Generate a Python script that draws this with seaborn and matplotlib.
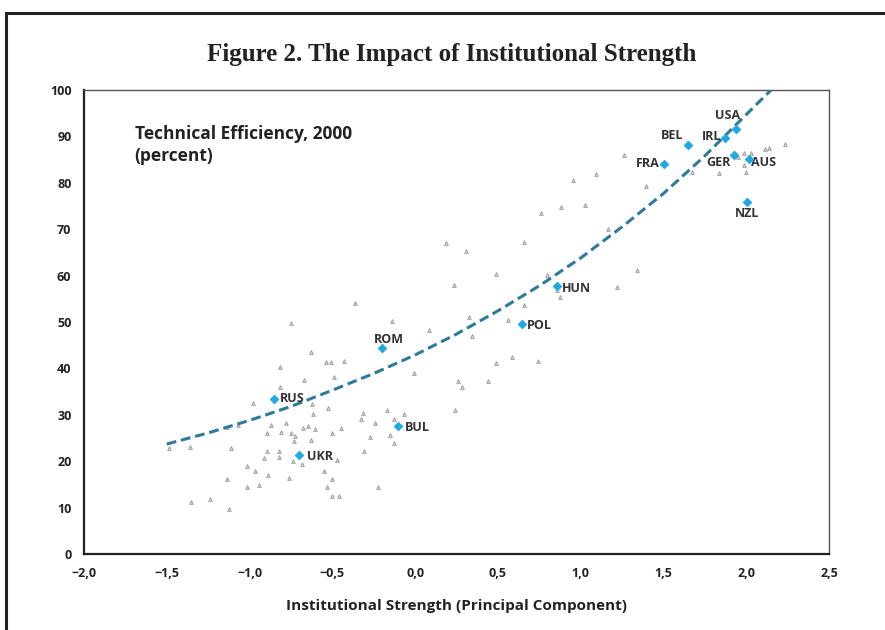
import numpy as np
import pandas as pd
import matplotlib
matplotlib.use("Agg")
import matplotlib.pyplot as plt
from matplotlib.patches import Rectangle
import seaborn as sns

# other countries (grey markers) - institutional strength vs technical efficiency
other_x = [-0.364, -0.749, -0.630, -0.813, -0.539, -0.509, -0.429, -0.672, -0.489, -0.815,
           -0.982, -0.622, -0.525, -0.614, -0.314, -0.326, -0.240, -0.777, -0.870, -1.135,
           -1.071, -0.678, -0.648, -0.604, -0.449, -0.894, -0.811, -0.747, -0.723, -0.732,
           -0.503, -0.630, -0.270, -1.486, -1.359, -1.113, -0.306, -0.894, -0.823, -0.914,
           -0.823, -0.739, -0.682, -0.471, -1.013, -0.970, -0.886, -0.548, -1.137, -0.761,
           -0.503, -1.016, -0.942, -0.530, -0.222, -0.499, -0.457, -1.353, -1.240, -1.125,
           0.234, 1.218, 0.856, 0.877, 0.660, -0.141, 0.328, 0.560, 0.083, 0.344,
           0.491, 0.584, 0.743, -0.008, 0.260, 0.284, 0.441, -0.167, -0.065, -0.125,
           0.242, -0.151, -0.125, 0.185, 0.310, 0.491, 0.799, 0.660, 0.763, 0.882,
           1.028, 0.952, 1.091, 1.167, 1.264, 1.397, 1.342, 1.671, 1.838, 1.949,
           1.989, 2.029, 1.987, 1.997, 2.115, 2.139, 2.236]
other_y = [54.0, 49.7, 43.5, 40.3, 41.3, 41.3, 41.7, 37.6, 38.1, 36.0,
           32.6, 32.4, 31.5, 30.1, 30.4, 29.1, 28.3, 28.3, 27.9, 27.4,
           27.7, 27.1, 27.6, 26.9, 27.2, 26.1, 26.3, 26.0, 25.4, 24.4,
           26.1, 24.6, 25.3, 22.8, 23.1, 22.8, 22.2, 22.2, 22.3, 20.6,
           21.0, 20.0, 19.5, 20.3, 18.9, 17.8, 17.0, 17.8, 16.1, 16.4,
           16.1, 14.5, 14.8, 14.5, 14.5, 12.4, 12.6, 11.2, 11.8, 9.6,
           57.9, 57.6, 56.9, 55.4, 53.7, 50.3, 51.1, 50.5, 48.2, 46.9,
           41.2, 42.5, 41.7, 39.0, 37.3, 36.1, 37.3, 31.0, 30.1, 29.1,
           31.0, 25.7, 24.0, 67.0, 65.3, 60.4, 60.2, 67.2, 73.6, 74.7,
           75.2, 80.7, 81.8, 70.0, 85.9, 79.3, 61.2, 82.4, 82.2, 85.6,
           86.5, 86.5, 83.9, 82.4, 87.2, 87.6, 88.4]

# highlighted countries
codes = ["RUS", "UKR", "ROM", "BUL", "POL", "HUN", "FRA", "BEL", "IRL", "USA", "GER", "AUS", "NZL"]
code_x = [-0.853, -0.702, -0.201, -0.101, 0.648, 0.859, 1.502, 1.650, 1.874, 1.937, 1.925, 2.015, 2.005]
code_y = [33.5, 21.4, 44.4, 27.6, 49.5, 57.8, 84.1, 88.2, 89.7, 91.6, 86.1, 85.2, 75.8]

# trend curve
trend_x = [-1.5, -1.25, -1.0, -0.75, -0.5, -0.25, 0.0, 0.25, 0.5, 0.75, 1.0, 1.25, 1.5, 1.75, 2.0, 2.15]
trend_y = [23.7, 26.1, 28.8, 31.8, 35.3, 38.9, 42.9, 47.4, 52.4, 57.8, 63.8, 70.5, 77.7, 85.8, 94.7, 100.0]

x_ticks = [-2.0, -1.5, -1.0, -0.5, 0.0, 0.5, 1.0, 1.5, 2.0, 2.5]
x_ticklabels = ["\u22122,0", "\u22121,5", "\u22121,0", "\u22120,5", "0,0", "0,5", "1,0", "1,5", "2,0", "2,5"]
y_ticks = [0, 10, 20, 30, 40, 50, 60, 70, 80, 90, 100]

# label offsets in points (dx, dy, ha)
label_pos = {
    "RUS": (4, 0, "left"), "UKR": (6, -1, "left"), "ROM": (5, 6, "center"),
    "BUL": (5, -1, "left"), "POL": (3, -1, "left"), "HUN": (3, -2, "left"),
    "FRA": (-3, 0, "right"), "BEL": (-12, 7, "center"), "IRL": (-3, 1, "right"),
    "USA": (-6, 10, "center"), "GER": (-2, -6, "right"), "AUS": (2, -3, "left"),
    "NZL": (0, -8, "center"),
}

sns.set_style("white")
plt.rcParams["font.family"] = ["Open Sans", "DejaVu Sans"]

fig = plt.figure(figsize=(8.85, 6.3), dpi=100)
ax = fig.add_axes([0.0949, 0.1206, 0.8418, 0.7365])

others = pd.DataFrame({"x": other_x, "y": other_y})
hi = pd.DataFrame({"x": code_x, "y": code_y, "code": codes})
trend = pd.DataFrame({"x": trend_x, "y": trend_y})

sns.scatterplot(data=others, x="x", y="y", ax=ax, marker="^", s=7,
                color="#d6d6d6", edgecolor="#8a8a8a", linewidth=0.5, zorder=2)
sns.lineplot(data=trend, x="x", y="y", ax=ax, color="#2f7a98", lw=2.2,
             linestyle=(0, (3.2, 1.6)), zorder=3)
sns.scatterplot(data=hi, x="x", y="y", ax=ax, marker="D", s=20,
                color="#1ea8e0", edgecolor="#1ea8e0", linewidth=0.5, zorder=4)

for c, xv, yv in zip(codes, code_x, code_y):
    dx, dy, ha = label_pos[c]
    ax.annotate(c, (xv, yv), xytext=(dx, dy), textcoords="offset points",
                ha=ha, va="center", fontsize=9, fontweight="bold", color="#333333")

ax.set_xlim(-2.0, 2.5)
ax.set_ylim(0, 100)
ax.set_xticks(x_ticks)
ax.set_xticklabels(x_ticklabels)
ax.set_yticks(y_ticks)
ax.tick_params(axis="both", direction="in", length=3, width=1, color="#222222",
               labelsize=9, labelcolor="#222222")
ax.tick_params(axis="x", pad=9)
ax.tick_params(axis="y", pad=9)
for lab in ax.get_xticklabels() + ax.get_yticklabels():
    lab.set_fontweight("bold")
ax.set_xlabel("Institutional Strength (Principal Component)", fontsize=11,
              fontweight="bold", color="#222222", labelpad=14)
ax.set_ylabel("")

for side in ["left", "bottom"]:
    ax.spines[side].set_linewidth(1.6)
    ax.spines[side].set_color("#222222")
for side in ["top", "right"]:
    ax.spines[side].set_linewidth(1.0)
    ax.spines[side].set_color("#555555")

ax.text(0.068, 0.925, "Technical Efficiency, 2000\n(percent)", transform=ax.transAxes,
        ha="left", va="top", fontsize=12.5, fontweight="bold", color="#222222",
        linespacing=1.3)

fig.text(0.51, 0.913, "Figure 2. The Impact of Institutional Strength",
         ha="center", va="center", fontsize=18, fontweight="bold",
         family=["Liberation Serif", "DejaVu Serif"], color="#222222")

# outer frame of the figure box
fig.patches.append(Rectangle((0.0065, -0.1), 1.1, 1.1 - 0.02, transform=fig.transFigure,
                             fill=False, edgecolor="#222222", lw=2.2, zorder=0))

fig.savefig("out.png", dpi=100)
